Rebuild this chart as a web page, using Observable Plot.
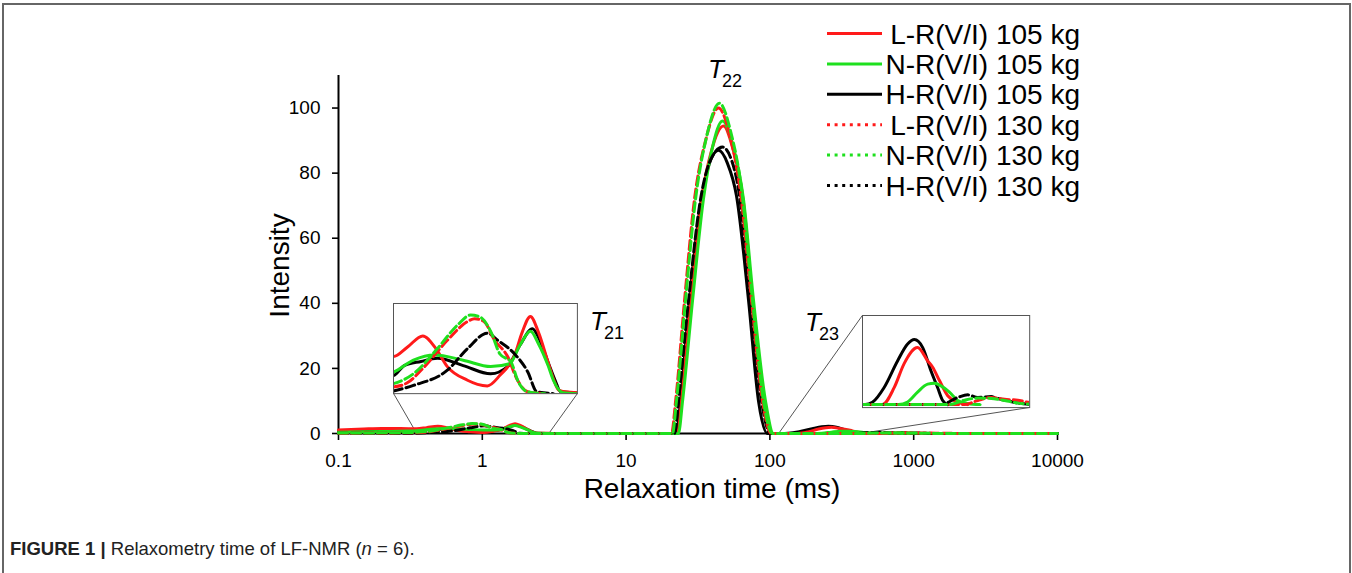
<!DOCTYPE html>
<html><head><meta charset="utf-8">
<script src="https://cdn.jsdelivr.net/npm/d3@7"></script>
<script src="https://cdn.jsdelivr.net/npm/@observablehq/plot@0.6"></script>
<style>
html,body{margin:0;padding:0;background:#fff;}
#wrap{position:relative;width:1352px;height:573px;overflow:hidden;font-family:"Liberation Sans",Arial,sans-serif;}
#border{position:absolute;left:2px;top:3px;width:1349px;height:700px;border:2px solid #666;box-sizing:border-box;}
#main{position:absolute;left:0;top:0;}
.inset{position:absolute;}
#overlay{position:absolute;left:0;top:0;}
#caption{position:absolute;left:10px;top:539.6px;font-size:18.5px;line-height:18.5px;color:#222;white-space:nowrap;}
#main svg [aria-label*="axis"] line, #main svg [aria-label*="axis"] path{stroke-width:1.6;}
</style></head><body>
<div id="wrap">
  <div id="border"></div>
  <div id="main"></div>
  <div id="caption"><b>FIGURE 1 |</b> Relaxometry time of LF-NMR (<i>n</i> = 6).</div>
</div>
<script>
// ---- data: [relaxation time (ms), intensity] ----
const seriesNames = ["L-R(V/I) 105 kg","N-R(V/I) 105 kg","H-R(V/I) 105 kg","L-R(V/I) 130 kg","N-R(V/I) 130 kg","H-R(V/I) 130 kg"];
const L105 = [[0.1,1.1],[0.15,1.4],[0.2,1.55],[0.27,1.55],[0.35,1.44],[0.41,1.8],[0.49,2.24],[0.57,1.75],[0.65,1.05],[0.82,0.52],[0.92,0.36],[1.03,0.3],[1.19,0.71],[1.41,1.5],[1.54,2.4],[1.69,3.0],[1.85,2.4],[2.07,1.22],[2.2,0.58],[2.34,0.14],[2.6,0.06],[2.9,0.04],[3.4,0],[22.8,0],[24.3,10],[28.0,41],[33.5,72],[39.3,87],[47.6,94.5],[54.9,88],[65.5,71],[75.7,41],[90.3,10],[102.6,0],[156,0],[187,0.57],[218,1.38],[268,1.92],[313,1.47],[338,1.26],[375,0.81],[426,0.3],[497,0.08],[579,0],[10000,0]];
const N105 = [[0.1,0.4],[0.2,0.6],[0.3,0.75],[0.35,0.84],[0.44,1.3],[0.56,1.5],[0.78,1.3],[1.07,1.05],[1.33,1.16],[1.5,1.89],[1.69,2.42],[1.85,1.95],[2.07,1.09],[2.2,0.52],[2.45,0.04],[2.9,0],[23.1,0],[24.7,10],[29.0,41],[34.5,72],[39.9,88],[46.8,96],[54.9,89],[65.5,72],[76.9,41],[93.2,10],[105.9,0],[200,0],[230,0.09],[268,0.42],[313,0.69],[347,0.72],[384,0.63],[437,0.42],[497,0.14],[579,0.04],[700,0],[10000,0]];
const H105 = [[0.1,0.5],[0.2,0.6],[0.3,0.65],[0.35,0.7],[0.396,1.09],[0.48,1.25],[0.58,1.37],[0.78,1.09],[1.07,0.77],[1.3,1.05],[1.5,1.89],[1.73,2.52],[1.85,2.2],[2.07,1.22],[2.25,0.5],[2.39,0.07],[2.9,0.02],[3.4,0],[22.4,0],[23.9,10],[27.6,41],[32.9,70],[38.0,83],[43.9,87],[50.7,83],[58.6,73],[71.0,41],[83.3,10],[96.2,0],[120,0],[134,0.08],[160,0.57],[197,1.47],[230,2.04],[255,2.19],[290,1.92],[329,1.14],[365,0.57],[394,0.14],[426,0],[10000,0]];
const L130 = [[0.1,0.1],[0.2,0.15],[0.3,0.22],[0.35,0.26],[0.41,0.42],[0.5,1.05],[0.65,2.07],[0.82,2.8],[0.89,2.91],[0.99,2.8],[1.12,2.07],[1.3,1.44],[1.44,0.6],[1.64,0.07],[2.0,0],[20.7,0],[22.1,10],[25.5,41],[29.9,72],[35.7,90],[43.9,100],[52.4,92],[62.4,74],[74.5,41],[88.8,10],[102.6,0],[550,0],[676,0.14],[831,0.24],[1020,0.18],[1284,0.14],[1424,0.09],[2000,0.03],[3000,0],[10000,0]];
const N130 = [[0.1,0.15],[0.2,0.2],[0.3,0.3],[0.35,0.39],[0.44,0.77],[0.58,1.75],[0.73,2.66],[0.85,3.05],[0.945,2.98],[1.07,2.42],[1.19,1.54],[1.35,1.23],[1.47,0.46],[1.64,0.07],[2.0,0],[21.0,0],[22.4,10],[25.9,41],[30.4,72],[36.2,91],[44.6,101.5],[53.2,93],[63.5,75],[75.7,41],[90.3,10],[104.3,0],[437,0],[550,0.15],[676,0.22],[831,0.21],[1020,0.14],[1351,0.03],[2000,0],[10000,0]];
const H130 = [[0.1,0.05],[0.2,0.05],[0.35,0.1],[0.44,0.32],[0.65,0.91],[0.82,1.75],[1.03,2.35],[1.16,2.07],[1.41,1.54],[1.64,0.84],[1.82,0.07],[2.2,0],[21.7,0],[23.1,10],[27.2,41],[32.4,70],[38.6,84],[46.8,88],[54.1,84],[60.5,75],[73.3,41],[87.4,10],[101,0],[384,0],[497,0.24],[579,0.33],[676,0.24],[831,0.27],[897,0.22],[1046,0.14],[1351,0.03],[1600,0],[10000,0]];
const xTicks = [0.1,1,10,100,1000,10000];
const yTicks = [0,20,40,60,80,100];
const peakLabels = [["T","22"],["T","21"],["T","23"]];

// ---- styles ----
const seriesData = {"L-R(V/I) 105 kg":L105,"N-R(V/I) 105 kg":N105,"H-R(V/I) 105 kg":H105,"L-R(V/I) 130 kg":L130,"N-R(V/I) 130 kg":N130,"H-R(V/I) 130 kg":H130};
const RED="#ff1a1a", GREEN="#1ee01e", BLACK="#000";
const colorOf = {"L-R(V/I) 105 kg":RED,"N-R(V/I) 105 kg":GREEN,"H-R(V/I) 105 kg":BLACK,"L-R(V/I) 130 kg":RED,"N-R(V/I) 130 kg":GREEN,"H-R(V/I) 130 kg":BLACK};
const dashed = s => s.includes("130");
const drawOrder = ["H-R(V/I) 105 kg","L-R(V/I) 105 kg","N-R(V/I) 105 kg","H-R(V/I) 130 kg","L-R(V/I) 130 kg","N-R(V/I) 130 kg"];
const rows = seriesNames.flatMap(s => seriesData[s].map(([t,v]) => ({series:s, t, v})));

// inset layout (box in main-data coordinates) and magnified domains
const insets = [
  {domain:[0.35,2.9], yDomain:[0,3.5], boxX:[0.2415,4.59], boxY:[12.3,40.0], links:[[0.2415,12.3,0.35,0],[4.59,12.3,2.9,0]]},
  {domain:[115,1500], yDomain:[-0.1,3.0], boxX:[440,6400], boxY:[8.0,36.3], links:[[440,36.3,115,0],[6400,8.0,426,0]]}
];
const connectors = insets.flatMap(m => m.links.map(([x1,y1,x2,y2]) => ({x1,y1,x2,y2})));

function curveMarks(data, opts = {}) {
  return drawOrder.map(s => Plot.line(data.filter(d => d.series === s), {
    x:"t", y:"v", stroke: colorOf[s], strokeWidth: 3,
    strokeDasharray: dashed(s) ? "9,4" : null, curve:"monotone-x", ...opts
  }));
}

const main = Plot.plot({
  width: 1352, height: 520,
  marginLeft: 338, marginRight: 295, marginTop: 75, marginBottom: 87,
  style: {fontFamily: '"Liberation Sans", Arial, sans-serif', fontSize: "19px", background: "transparent", overflow: "visible", color: "#000"},
  x: {type: "log", domain: [0.1, 10000], ticks: xTicks, tickFormat: d => String(d), tickSize: 7, tickPadding: 13, label: null},
  y: {domain: [0, 110], ticks: yTicks, tickSize: 6, tickPadding: 12, label: null},
  marks: [
    Plot.link(connectors, {x1:"x1", y1:"y1", x2:"x2", y2:"y2", stroke:"#555", strokeWidth:1}),
    Plot.ruleY([0], {stroke:"#000", strokeWidth:2}),
    Plot.ruleX([0.1], {stroke:"#000", strokeWidth:2}),
    ...curveMarks(rows),
    Plot.text(["Intensity"], {frameAnchor:"left", text: d => d, rotate:-90, dx:-58, dy:11, fontSize:28, lineAnchor:"middle", textAnchor:"middle"}),
    Plot.text(["Relaxation time (ms)"], {frameAnchor:"bottom", text: d => d, dx:14, dy:45, fontSize:28, lineAnchor:"top", textAnchor:"middle"})
  ]
});
document.getElementById("main").appendChild(main);

const xs = main.scale("x"), ys = main.scale("y");
const wrap = document.getElementById("wrap");
for (const m of insets) {
  const x0 = xs.apply(m.boxX[0]), x1 = xs.apply(m.boxX[1]);
  const yT = ys.apply(m.boxY[1]), yB = ys.apply(m.boxY[0]);
  const sub = rows.filter(d => d.t >= m.domain[0] / 1.6 && d.t <= m.domain[1] * 1.6);
  const p = Plot.plot({
    width: x1 - x0, height: yB - yT, margin: 0,
    style: {background: "#fff", overflow: "visible"},
    x: {type: "log", domain: m.domain, axis: null},
    y: {domain: m.yDomain, axis: null},
    marks: [...curveMarks(sub, {clip: true}), Plot.frame({stroke: "#555", strokeWidth: 1})]
  });
  p.classList.add("inset");
  p.style.left = x0 + "px";
  p.style.top = yT + "px";
  p.style.position = "absolute";
  wrap.appendChild(p);
}

// overlay: legend and peak labels
const ov = d3.select(wrap).append("svg").attr("id","overlay").attr("width",1352).attr("height",573)
  .style("font-family",'"Liberation Sans", Arial, sans-serif');
seriesNames.forEach((s, i) => {
  const base = 43.5 + i * 30.4;
  ov.append("line").attr("x1",827).attr("x2",882).attr("y1",base-10).attr("y2",base-10)
    .attr("stroke", colorOf[s]).attr("stroke-width", 3)
    .attr("stroke-dasharray", dashed(s) ? "3,4.6" : null);
  ov.append("text").attr("x",1080).attr("y",base).attr("text-anchor","end")
    .attr("font-size",28).attr("fill","#000").text(s);
});
const labelPos = [[708,78],[590,330],[805,331]];
peakLabels.forEach(([t, sub], i) => {
  const [lx, ly] = labelPos[i];
  ov.append("text").attr("x",lx).attr("y",ly).attr("font-size",26).attr("font-style","italic").text(t);
  ov.append("text").attr("x",lx+14).attr("y",ly+9).attr("font-size",18).text(sub);
});
</script>
</body></html>
